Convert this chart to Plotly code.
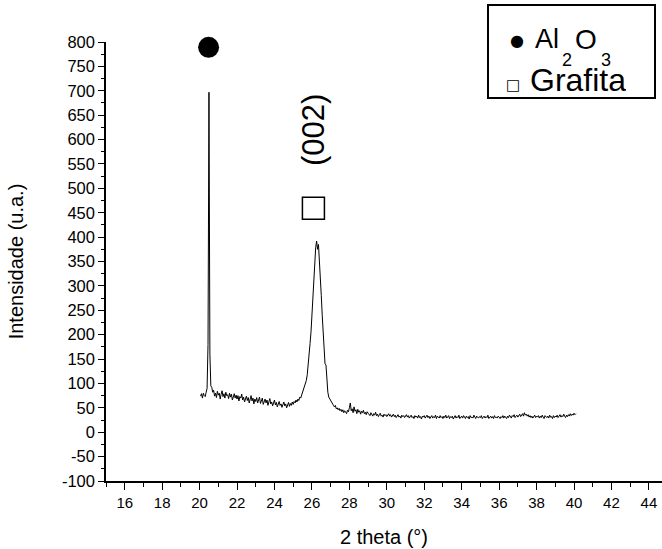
import numpy as np
import plotly.graph_objects as go

# scan grid
two_theta_start = 20.05
two_theta_step = 0.05

intensity = [
    # 20.05 - 20.65
    74, 79, 70, 80, 75, 73, 82, 90, 180, 697, 160, 95, 92,
    # 20.70 - 21.65
    82, 86, 74, 80, 71, 84, 76, 80, 68, 78, 85, 73, 79, 70, 82, 75, 77, 69, 80, 72,
    # 21.70 - 22.65
    78, 66, 74, 79, 70, 76, 68, 75, 64, 73, 70, 78, 66, 72, 62, 70, 74, 65, 71, 60,
    # 22.70 - 23.65
    69, 75, 64, 70, 58, 68, 63, 71, 60, 67, 72, 59, 66, 70, 57, 64, 68, 60, 66, 55,
    # 23.70 - 24.65
    63, 69, 58, 62, 54, 60, 66, 56, 61, 52, 59, 63, 55, 58, 51, 57, 62, 54, 58, 50,
    # 24.70 - 25.65
    56, 61, 53, 59, 55, 62, 57, 63, 60, 66, 62, 68, 65, 72, 70, 76, 80, 85, 92, 98,
    # 25.70 - 26.65
    106, 118, 135, 158, 182, 205, 240, 280, 318, 352, 378, 392, 375, 385, 355, 320, 280, 240, 195, 150,
    # 26.70 - 27.65
    140, 138, 100, 82, 72, 68, 64, 60, 58, 55, 52, 55, 48, 50, 46, 49, 44, 47, 42, 46,
    # 27.70 - 28.65
    40, 44, 41, 38, 45, 42, 50, 60, 44, 48, 40, 52, 43, 46, 38, 47, 41, 44, 37, 43,
    # 28.70 - 29.65
    40, 45, 38, 41, 36, 42, 39, 37, 34, 40, 36, 33, 38, 35, 41, 34, 37, 32, 36, 39,
    # 29.70 - 30.65
    33, 35, 31, 37, 34, 36, 32, 35, 38, 33, 36, 31, 34, 37, 32, 35, 30, 34, 36, 31,
    # 30.70 - 31.65
    33, 29, 35, 32, 34, 30, 33, 36, 31, 34, 29, 33, 35, 30, 32, 28, 34, 31, 33, 29,
    # 31.70 - 32.65
    35, 30, 32, 27, 33, 31, 34, 29, 32, 35, 30, 33, 28, 31, 34, 29, 32, 30, 35, 28,
    # 32.70 - 33.65
    33, 31, 29, 34, 30, 32, 28, 33, 30, 35, 29, 31, 34, 28, 32, 30, 33, 27, 31, 34,
    # 33.70 - 34.65
    29, 32, 30, 35, 28, 31, 33, 29, 34, 31, 28, 33, 30, 32, 27, 34, 30, 31, 29, 35,
    # 34.70 - 35.65
    30, 28, 33, 31, 29, 32, 30, 34, 28, 31, 33, 29, 32, 30, 35, 28, 31, 33, 29, 32,
    # 35.70 - 36.65
    28, 34, 30, 31, 29, 33, 31, 28, 32, 30, 34, 29, 33, 31, 28, 33, 30, 35, 31, 29,
    # 36.70 - 37.65
    34, 32, 36, 30, 33, 35, 31, 34, 37, 32, 35, 38, 33, 40, 35, 37, 33, 36, 31, 34,
    # 37.70 - 38.65
    30, 33, 29, 32, 35, 30, 33, 31, 34, 29, 33, 30, 35, 31, 28, 34, 32, 30, 33, 29,
    # 38.70 - 39.65
    35, 31, 32, 28, 34, 30, 33, 31, 35, 30, 33, 36, 31, 34, 32, 37, 33, 30, 35, 32,
    # 39.70 - 40.10
    36, 33, 38, 34, 37, 35, 39, 36, 38,
]

two_theta = np.round(two_theta_start + two_theta_step * np.arange(len(intensity)), 2)

# peak markers
al2o3_marker_x = [20.48]
al2o3_marker_y = [789]
grafita_marker_x = [26.08]
grafita_marker_y = [459]

x_ticks = list(range(16, 45, 2))
y_ticks = list(range(-100, 801, 50))

FONT = "Liberation Sans, Arial, sans-serif"

W, H = 662, 549
ML, MR, MT, MB = 106, 0, 42, 68
PW, PH = W - ML - MR, H - MT - MB


def px(x):
    return (x - ML) / PW


def py(y):
    return (H - MB - y) / PH


fig = go.Figure()
fig.add_trace(go.Scatter(
    x=two_theta, y=intensity, mode="lines",
    line=dict(color="black", width=1), showlegend=False, hoverinfo="skip",
))
fig.add_trace(go.Scatter(
    x=al2o3_marker_x, y=al2o3_marker_y, mode="markers",
    marker=dict(symbol="circle", size=21, color="black"),
    showlegend=False, cliponaxis=False,
))
fig.add_trace(go.Scatter(
    x=grafita_marker_x, y=grafita_marker_y, mode="markers",
    marker=dict(symbol="square-open", size=22, color="black", line=dict(width=1.5)),
    showlegend=False, cliponaxis=False,
))

fig.add_annotation(x=26.12, y=620, xref="x", yref="y", text="(002)",
                   textangle=-90, showarrow=False,
                   font=dict(family=FONT, size=31, color="black"))

# legend box
fig.add_shape(type="rect", xref="paper", yref="paper",
              x0=px(488), x1=px(655), y0=py(98), y1=py(5),
              line=dict(color="black", width=2), fillcolor="white", layer="above")
fig.add_annotation(xref="paper", yref="paper", x=px(517), y=py(41), text="●",
                   showarrow=False, xanchor="center", yanchor="middle", borderpad=0,
                   font=dict(family="DejaVu Sans", size=16, color="black"))
# (text, left px, centre px, font size, box height)
legend_parts = [("Al", 534, 39, 27, 24), ("2", 561, 60, 18, 16),
                ("O", 574, 39, 28, 24), ("3", 600, 60, 18, 16)]
for txt, lx, ly, fs, bh in legend_parts:
    fig.add_annotation(xref="paper", yref="paper", x=px(lx), y=py(ly), text=txt,
                       showarrow=False, xanchor="left", yanchor="middle", borderpad=0,
                       height=bh, font=dict(family=FONT, size=fs, color="black"))
fig.add_annotation(xref="paper", yref="paper", x=px(513), y=py(85), text="□",
                   showarrow=False, xanchor="center", yanchor="middle", borderpad=0,
                   font=dict(family="DejaVu Sans", size=15, color="black"))
fig.add_annotation(xref="paper", yref="paper", x=px(529), y=py(80), text="Grafita",
                   showarrow=False, xanchor="left", yanchor="middle", borderpad=0,
                   height=26, font=dict(family=FONT, size=32, color="black"))

fig.update_layout(
    width=W, height=H,
    margin=dict(l=ML, r=MR, t=MT, b=MB),
    paper_bgcolor="white", plot_bgcolor="white",
    font=dict(family=FONT, size=15, color="black"),
    showlegend=False,
)
fig.update_xaxes(
    range=[15, 44.7], tickmode="array", tickvals=x_ticks,
    ticktext=[str(v) for v in x_ticks], tickfont=dict(size=15),
    ticks="outside", ticklen=7, tickwidth=1, tickcolor="black",
    minor=dict(ticks="outside", ticklen=4, dtick=1, tick0=15, tickcolor="black"),
    showline=True, linecolor="black", linewidth=1.5, mirror=False,
    showgrid=False, zeroline=False,
    title=dict(text="2 theta (°)", font=dict(size=20), standoff=20),
)
fig.update_yaxes(
    range=[-100, 800], tickmode="array", tickvals=y_ticks,
    ticktext=[str(v) for v in y_ticks], tickfont=dict(size=16.5),
    ticks="outside", ticklen=6, tickwidth=1, tickcolor="black",
    minor=dict(ticks="outside", ticklen=3, dtick=25, tick0=0, tickcolor="black"),
    showline=True, linecolor="black", linewidth=1.5, mirror=False,
    showgrid=False, zeroline=False,
    title=dict(text="Intensidade (u.a.)", font=dict(size=20), standoff=33),
)

fig.write_html("out.html", config={"displayModeBar": False},
               post_script="document.body.style.margin='0px';")
